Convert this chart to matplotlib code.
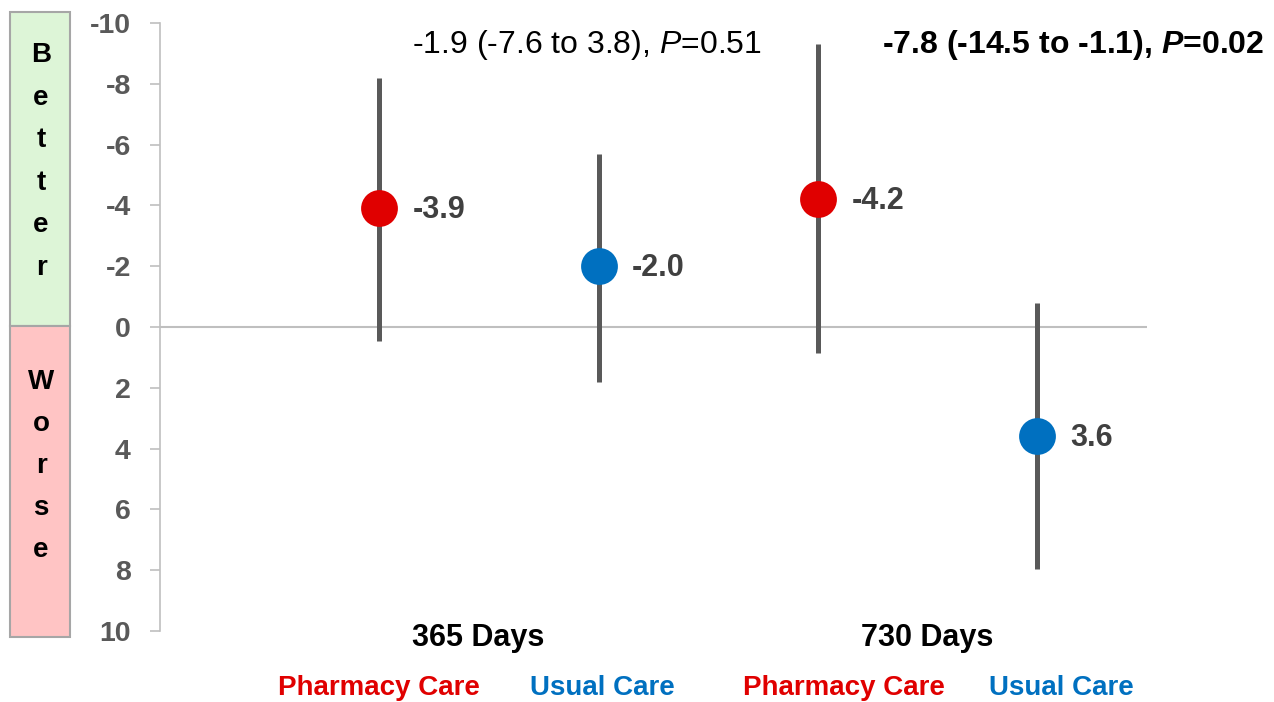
import matplotlib
matplotlib.use("Agg")
import matplotlib.pyplot as plt
from matplotlib.patches import Rectangle
from matplotlib import font_manager

# ---- data ----
groups = ["Pharmacy Care", "Usual Care", "Pharmacy Care", "Usual Care"]
periods = ["365 Days", "730 Days"]
means = [-3.9, -2.0, -4.2, 3.6]
ci_low = [-8.2, -5.7, -9.3, -0.8]
ci_high = [0.45, 1.8, 0.85, 7.95]
value_labels = ["-3.9", "-2.0", "-4.2", "3.6"]
diff_texts = ["-1.9 (-7.6 to 3.8), ", "-7.8 (-14.5 to -1.1), "]
diff_p = ["0.51", "0.02"]
diff_bold = [False, True]
yticks = [-10, -8, -6, -4, -2, 0, 2, 4, 6, 8, 10]

RED = "#E00000"
BLUE = "#0070C0"
colors = [RED, BLUE, RED, BLUE]

names = {f.name for f in font_manager.fontManager.ttflist}
base = "Liberation Sans" if "Liberation Sans" in names else "DejaVu Sans"
plt.rcParams["font.family"] = [base, "DejaVu Sans"]
plt.rcParams["mathtext.fontset"] = "custom"
plt.rcParams["mathtext.it"] = base + ":italic"
plt.rcParams["mathtext.bfit"] = base + ":italic:bold"
plt.rcParams["mathtext.rm"] = base

W, H = 1274, 702
fig = plt.figure(figsize=(W / 100, H / 100), dpi=100)
ax = fig.add_axes([160 / W, 1 - 631 / H, (1147 - 160) / W, (631 - 23) / H])

xs = [1, 2, 3, 4]
for x, m, lo, hi, c in zip(xs, means, ci_low, ci_high, colors):
    ax.plot([x, x], [lo, hi], color="#595959", lw=3.6, solid_capstyle="butt", zorder=2)
    ax.plot([x], [m], "o", color=c, markersize=26.5, markeredgewidth=0, zorder=3)
for x, m, lab in zip(xs, means, value_labels):
    ax.annotate(lab, (x, m), xytext=(24, -1), textcoords="offset points",
                ha="left", va="center", fontsize=22, fontweight="bold", color="#404040")

ax.axhline(0, color="#BFBFBF", lw=1.5, zorder=1)
ax.set_xlim(0, 4.5)
ax.set_ylim(10, -10)
ax.set_yticks(yticks)
ax.set_yticklabels([str(t) for t in yticks])
ax.set_xticks([])
for s in ["top", "right", "bottom"]:
    ax.spines[s].set_visible(False)
ax.spines["left"].set_color("#BFBFBF")
ax.spines["left"].set_linewidth(1.2)
ax.tick_params(axis="y", colors="#BFBFBF", length=7, width=1.2, pad=14,
               labelsize=20.5, labelcolor="#595959")
for t in ax.get_yticklabels():
    t.set_fontweight("bold")

# difference annotations
for txt, p, bold, cx in zip(diff_texts, diff_p, diff_bold, [587, 1073]):
    if bold:
        s = txt + r"$\mathbfit{P}$" + "=" + p
    else:
        s = txt + r"$\mathit{P}$" + "=" + p
    fig.text(cx / W, 1 - 45 / H, s, ha="center", va="center", fontsize=23,
             fontweight="bold" if bold else "normal", color="black")

# period labels
for per, cx in zip(periods, [478, 927]):
    fig.text(cx / W, 1 - 638 / H, per, ha="center", va="center",
             fontsize=22, fontweight="bold", color="black")
# group labels
for g, c, cx in zip(groups, colors, [379, 602, 844, 1061]):
    fig.text(cx / W, 1 - 688 / H, g, ha="center", va="center",
             fontsize=20, fontweight="bold", color=c)

# better / worse boxes
fig.patches.append(Rectangle((10 / W, 1 - 326 / H), 60 / W, 314 / H, transform=fig.transFigure,
                             facecolor="#DDF5D7", edgecolor="#A6A6A6", lw=1.5, figure=fig))
fig.patches.append(Rectangle((10 / W, 1 - 637 / H), 60 / W, 311 / H, transform=fig.transFigure,
                             facecolor="#FFC4C4", edgecolor="#A6A6A6", lw=1.5, figure=fig))
for i, ch in enumerate("Better"):
    fig.text(41 / W, 1 - (55 + i * 42.6) / H, ch, ha="center", va="center",
             fontsize=20, fontweight="bold", color="black")
for i, ch in enumerate("Worse"):
    fig.text(41 / W, 1 - (382 + i * 42) / H, ch, ha="center", va="center",
             fontsize=20, fontweight="bold", color="black")

fig.savefig("out.png", dpi=100)
